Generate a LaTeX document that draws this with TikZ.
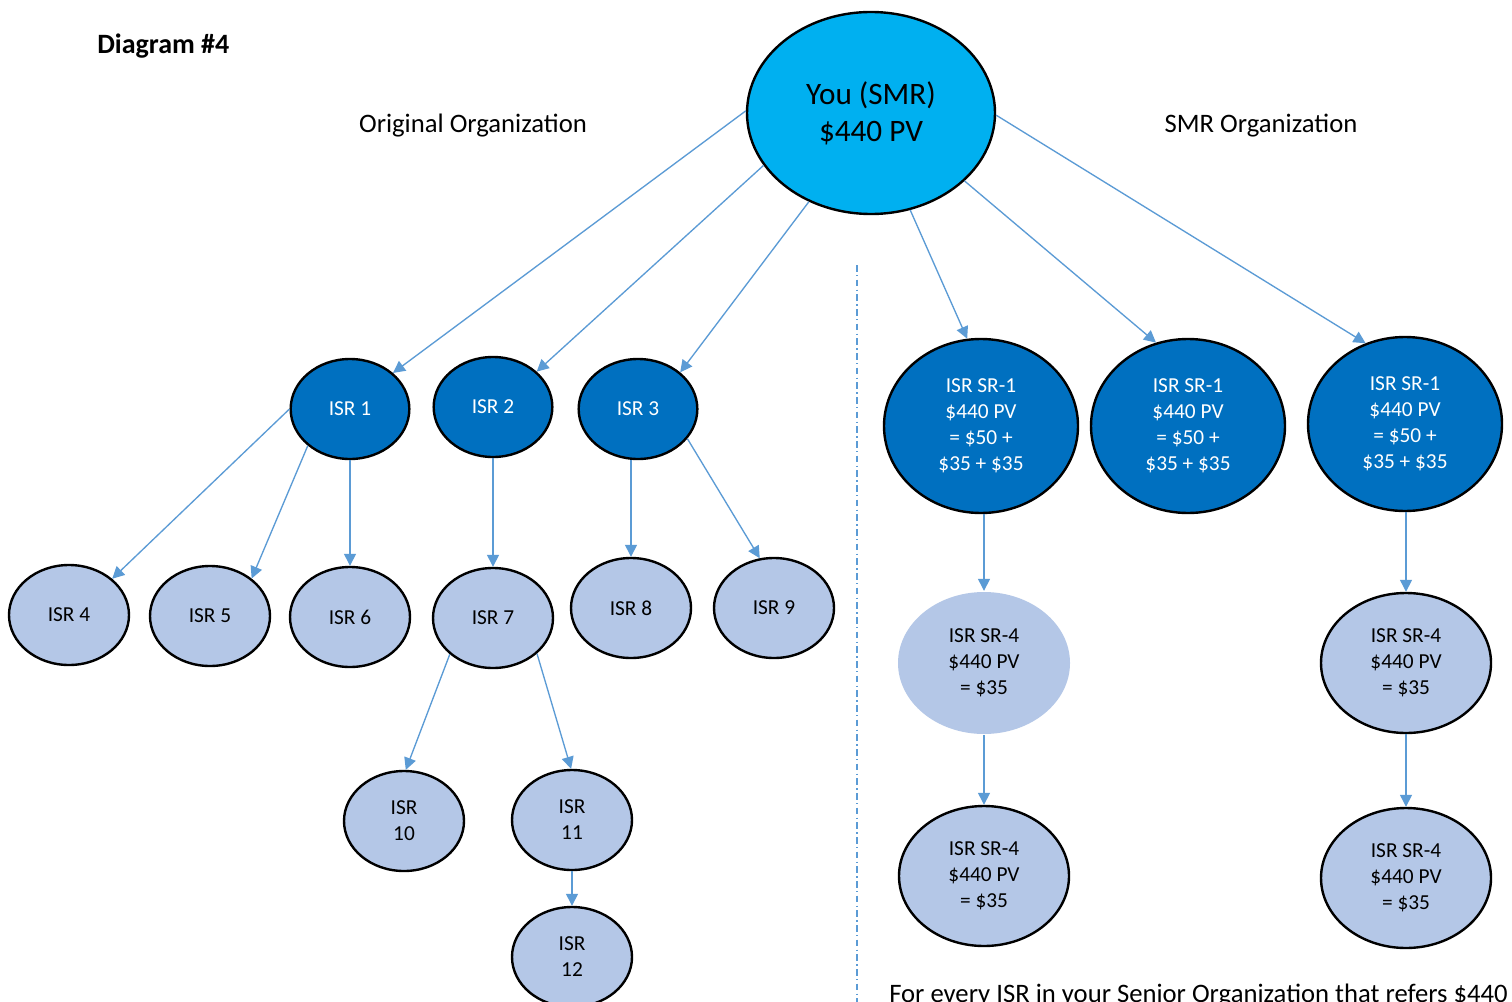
\documentclass[tikz,border=0pt]{standalone}
\usepackage{fontspec}
\setmainfont{Carlito}
\usetikzlibrary{shapes.geometric,arrows.meta}
\definecolor{topblue}{HTML}{00B0F0}
\definecolor{darkblue}{HTML}{0070C0}
\definecolor{lightblue}{HTML}{B4C7E7}
\definecolor{linkblue}{HTML}{5B9BD5}
\tikzset{
 base/.style={ellipse, inner sep=0pt, align=center, draw=black, line width=1.8pt},
 topnode/.style={base, fill=topblue, minimum width=186pt, minimum height=151.5pt, font=\fontsize{23.4}{27.75}\selectfont},
 darknode/.style={base, fill=darkblue, text=white, minimum width=89pt, minimum height=75pt, font=\fontsize{16}{19.5}\selectfont},
 lightnode/.style={base, fill=lightblue, minimum width=90pt, minimum height=75pt, font=\fontsize{16}{19.5}\selectfont},
 bigdark/.style={darknode, minimum width=145.5pt, minimum height=130.5pt},
 biglight/.style={lightnode, minimum width=127.5pt, minimum height=105pt},
 link/.style={draw=linkblue, line width=1pt, -{Triangle[length=9pt,width=9pt]}},
 label/.style={inner sep=0pt, font=\fontsize{20}{24}\selectfont},
}
\begin{document}
\begin{tikzpicture}[x=0.75pt,y=-0.75pt]
\clip (0,0) rectangle (1512,1002);
\fill[white] (0,0) rectangle (1512,1002);

\node[label, anchor=west, font=\bfseries\fontsize{21}{24}\selectfont] (title) at (97,46) {Diagram \#4};
\node[label] (orig) at (473,126) {Original Organization};
\node[label] (smro) at (1261,126) {SMR Organization};
\node[label, anchor=west] (note) at (889,996) {For every ISR in your Senior Organization that refers \$440};

\draw[linkblue, line width=0.9pt, dash pattern=on 5pt off 2.5pt on 1pt off 2.5pt] (857,265) coordinate (dtop) -- (857,1002) coordinate (dbot);

\node[topnode] (you) at (871,113) {You (SMR)\\\$440 PV};

\node[darknode] (i1) at (350,409) {ISR 1};
\node[darknode] (i2) at (493,407) {ISR 2};
\node[darknode] (i3) at (638,409) {ISR 3};
\node[lightnode] (i4) at (69,615) {ISR 4};
\node[lightnode] (i5) at (210,616) {ISR 5};
\node[lightnode] (i6) at (350,617) {ISR 6};
\node[lightnode] (i7) at (493,618) {ISR 7};
\node[lightnode] (i8) at (631,608) {ISR 8};
\node[lightnode] (i9) at (774,608) {ISR 9};
\node[lightnode] (i10) at (404,821) {ISR\\10};
\node[lightnode] (i11) at (572,820) {ISR\\11};
\node[lightnode] (i12) at (572,957) {ISR\\12};

\node[bigdark] (s1a) at (981,426) {ISR SR-1\\\$440 PV\\= \$50 +\\\$35 + \$35};
\node[bigdark] (s1b) at (1188,426) {ISR SR-1\\\$440 PV\\= \$50 +\\\$35 + \$35};
\node[bigdark] (s1c) at (1405,424) {ISR SR-1\\\$440 PV\\= \$50 +\\\$35 + \$35};
\node[biglight, draw=none, minimum width=129pt, minimum height=106.5pt] (s4a) at (984,663) {ISR SR-4\\\$440 PV\\= \$35};
\node[biglight] (s4b) at (984,876) {ISR SR-4\\\$440 PV\\= \$35};
\node[biglight] (s4c) at (1406,663) {ISR SR-4\\\$440 PV\\= \$35};
\node[biglight] (s4d) at (1406,878) {ISR SR-4\\\$440 PV\\= \$35};

\draw[link] (you.179) -- (i1.40);
\draw[link] (you.206) -- (i2.39);
\draw[link] (you.235) -- (i3.41);
\draw[link] (you.292) -- (s1a.99);
\draw[link] (you.324) -- (s1b.111);
\draw[link] (you.359) -- (s1c.116);

\draw[link] (i1.180) -- (i4.40);
\draw[link] (i1.221) -- (i5.42);
\draw[link] (i1.270) -- (i6.90);
\draw[link] (i2.270) -- (i7.90);
\draw[link] (i3.south -| i8.north) -- (i8.north);
\draw[link] (i3.329) -- (i9.106);
\draw[link] (i7.220) -- (i10.88);
\draw[link] (i7.321) -- (i11.91);
\draw[link] (i11.270) -- (i12.90);

\draw[link] (s1a.south -| s4a.north) -- (s4a.north);
\draw[link] (s4a.south) -- (s4b.north);
\draw[link] (s1c.south -| s4c.north) -- (s4c.north);
\draw[link] (s4c.south) -- (s4d.north);
\end{tikzpicture}
\end{document}
